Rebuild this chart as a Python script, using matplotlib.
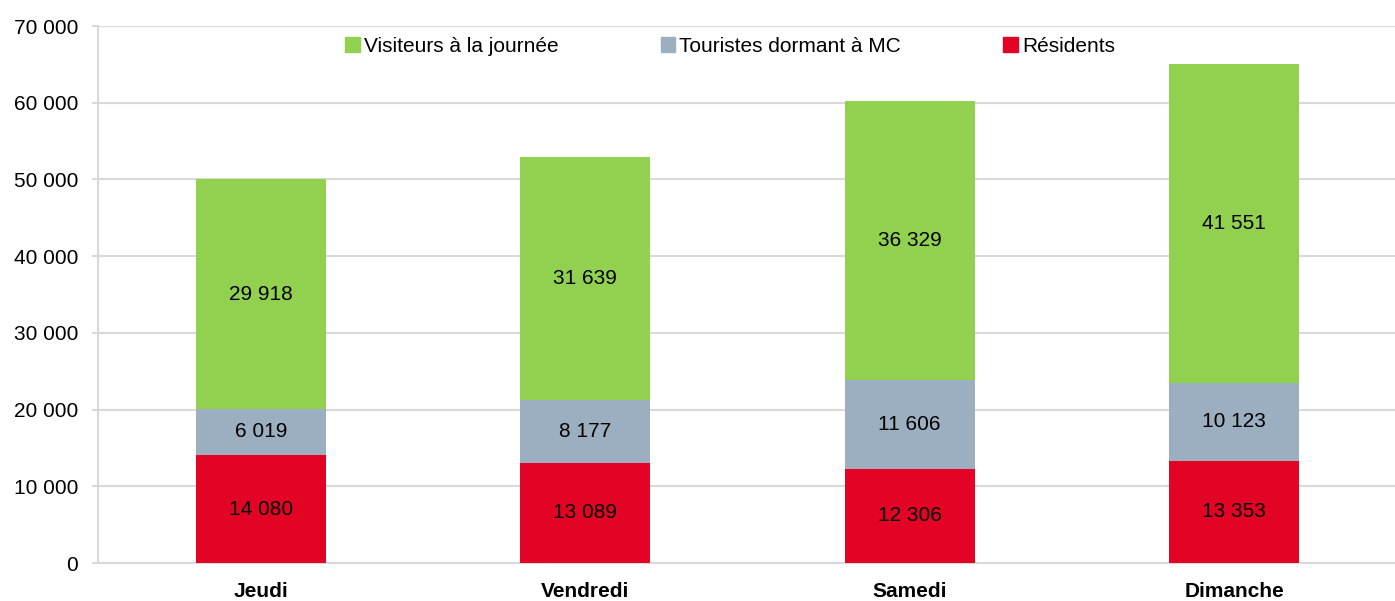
import matplotlib.pyplot as plt
from matplotlib.patches import Patch
from matplotlib.ticker import FuncFormatter

plt.rcParams['font.family'] = ['Liberation Sans', 'DejaVu Sans']

jours = ["Jeudi", "Vendredi", "Samedi", "Dimanche"]
residents = [14080, 13089, 12306, 13353]
touristes = [6019, 8177, 11606, 10123]
visiteurs = [29918, 31639, 36329, 41551]

c_vis = '#92d050'
c_tou = '#9bafc1'
c_res = '#e30425'
grid_c = '#d9d9d9'

fig = plt.figure(figsize=(13.95, 6.01), dpi=100)
ax = fig.add_axes([0.0703, 0.0632, 0.9297, 0.8935])

x = list(range(len(jours)))
w = 0.4
base2 = residents
base3 = [r + t for r, t in zip(residents, touristes)]

b1 = ax.bar(x, residents, w, color=c_res, zorder=3)
b2 = ax.bar(x, touristes, w, bottom=base2, color=c_tou, zorder=3)
b3 = ax.bar(x, visiteurs, w, bottom=base3, color=c_vis, zorder=3)

fmt = lambda v: f"{v:,}".replace(",", " ")
for bars in (b1, b2, b3):
    ax.bar_label(bars, labels=[fmt(b.get_height()) for b in bars],
                 label_type='center', fontsize=15, color='black')

ax.set_xlim(-0.502, 3.496)
ax.set_ylim(0, 70000)
ax.set_yticks(range(0, 70001, 10000))
ax.yaxis.set_major_formatter(FuncFormatter(lambda v, p: fmt(int(v))))
ax.grid(axis='y', color=grid_c, linewidth=1.5, zorder=0)
ax.set_xticks(x)
ax.set_xticklabels(jours, fontsize=15, fontweight='bold')
ax.tick_params(axis='x', length=0, pad=14)
ax.tick_params(axis='y', length=4.5, color=grid_c, width=1.5, labelsize=15, pad=10)
for s in ('top', 'right'):
    ax.spines[s].set_visible(False)
ax.spines['left'].set_color(grid_c)
ax.spines['left'].set_linewidth(1.5)
ax.spines['bottom'].set_color(grid_c)
ax.spines['bottom'].set_linewidth(1.5)

handles = [Patch(color=c_vis), Patch(color=c_tou), Patch(color=c_res)]
labels = ["Visiteurs à la journée", "Touristes dormant à MC", "Résidents"]
fig.legend(handles, labels, loc='center', bbox_to_anchor=(730 / 1395, 1 - 46 / 601),
           ncol=3, frameon=False, fontsize=15, handlelength=0.7, handleheight=0.7,
           handletextpad=0.2, columnspacing=4.9)

fig.savefig('out.png', dpi=100)
